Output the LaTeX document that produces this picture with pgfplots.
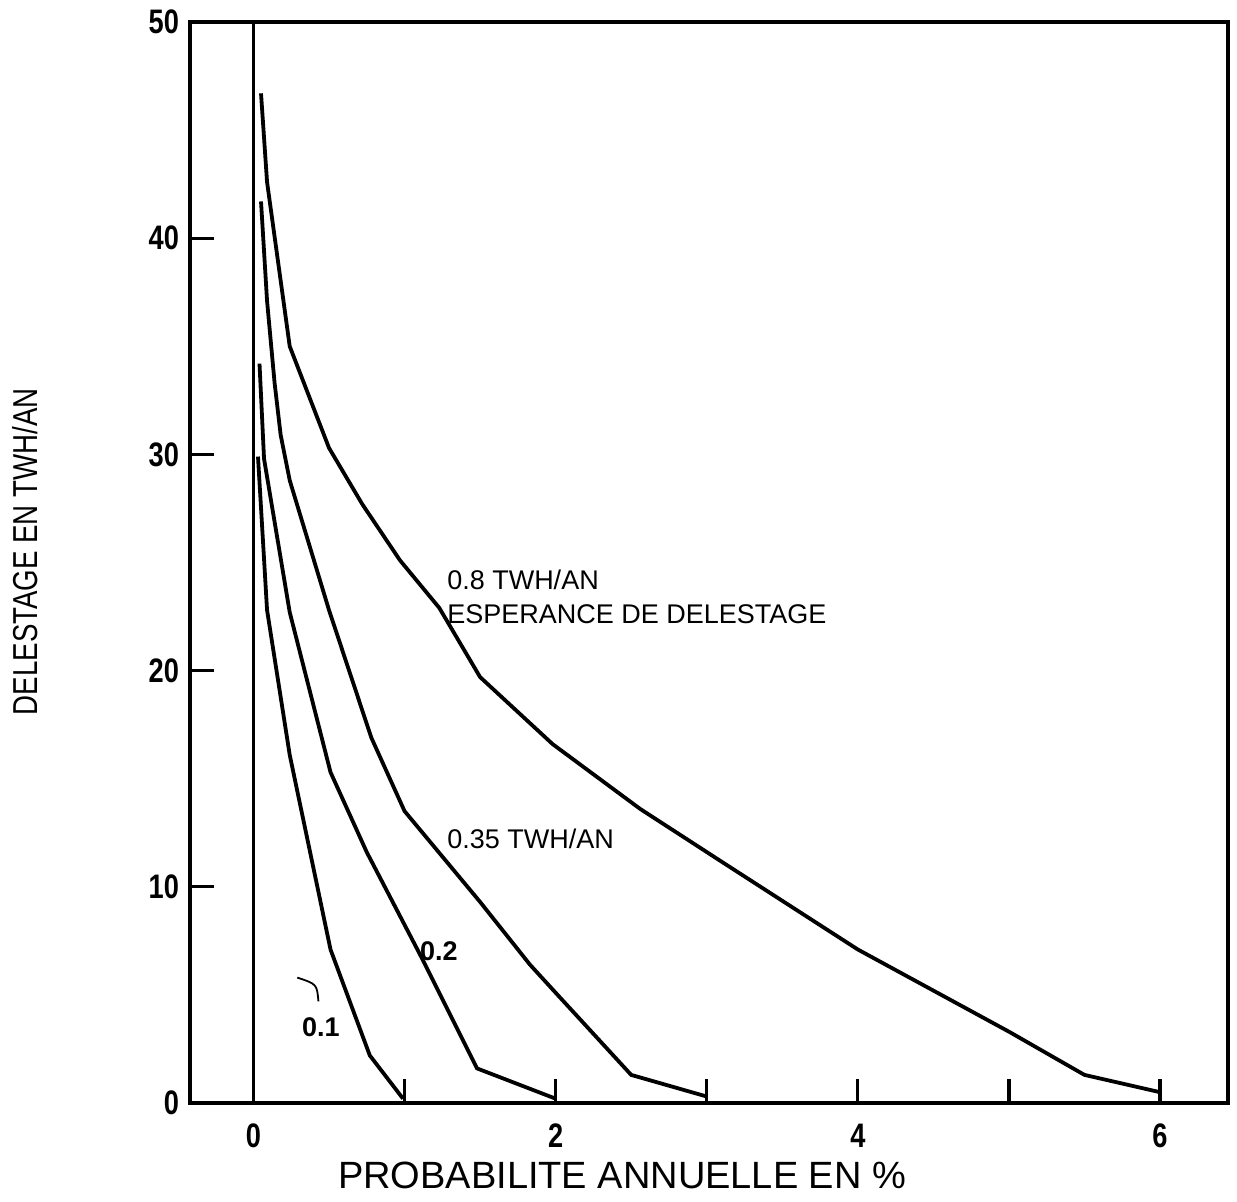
\documentclass[border=0pt]{standalone}
\usepackage{pgfplots}
\pgfplotsset{compat=1.18}
\usepackage{fontspec}
\setmainfont{Liberation Sans}
\newfontfamily\condfont{Liberation Sans}[FakeStretch=0.8]

\pgfplotstableread{
x     y
0.05  46.7
0.09  42.6
0.24  35.0
0.50  30.3
0.72  27.7
0.97  25.1
1.23  22.9
1.50  19.7
1.98  16.6
2.56  13.6
3.09  11.2
4.00   7.1
4.50   5.2
5.00   3.3
5.50   1.3
6.00   0.5
}\curveA
\pgfplotstableread{
x     y
0.05  41.7
0.09  37.1
0.14  33.3
0.18  30.9
0.24  28.8
0.50  22.8
0.78  16.9
1.00  13.5
1.50   9.3
1.83   6.4
2.00   5.1
2.50   1.3
3.00   0.3
}\curveB
\pgfplotstableread{
x     y
0.04  34.2
0.07  29.8
0.24  22.7
0.51  15.3
0.75  11.6
1.10   6.9
1.48   1.6
2.00   0.2
}\curveC
\pgfplotstableread{
x     y
0.03  29.9
0.09  22.8
0.24  16.1
0.51   7.1
0.77   2.2
0.99   0.2
}\curveD

\begin{document}
\begin{tikzpicture}
\begin{axis}[
  scale only axis,
  width=519pt, height=540.5pt,
  xmin=-0.42, xmax=6.45, ymin=0, ymax=50,
  axis line style={line width=2.4pt},
  xtick={0,1,2,3,4,5,6},
  xticklabels={0,,2,,4,,6},
  ytick={0,10,20,30,40,50},
  tick style={black, line width=1.6pt},
  tick align=inside,
  xtick pos=bottom, ytick pos=left,
  major tick length=12pt,
  x tick label style={yshift=-7pt},
  y tick label style={xshift=-2pt},
  ticklabel style={font=\condfont\bfseries\fontsize{17}{17}\selectfont},
  /pgf/number format/assume math mode=true,
  clip=false,
]
\addplot[black, line width=1.4pt] coordinates {(0,0) (0,50)};
\addplot[black, line width=1.9pt] table {\curveA};
\addplot[black, line width=1.9pt] table {\curveB};
\addplot[black, line width=1.9pt] table {\curveC};
\addplot[black, line width=1.9pt] table {\curveD};

\node[anchor=west, inner sep=0, font=\fontsize{13.5}{14}\selectfont] at (axis cs:1.28,24.2) {0.8 TWH/AN};
\node[anchor=west, inner sep=0, font=\fontsize{13.5}{14}\selectfont] at (axis cs:1.28,22.6) {ESPERANCE DE DELESTAGE};
\node[anchor=west, inner sep=0, font=\fontsize{13.5}{14}\selectfont] at (axis cs:1.28,12.2) {0.35 TWH/AN};
\node[anchor=west, inner sep=0, font=\bfseries\fontsize{13.5}{14}\selectfont] at (axis cs:1.10,7.0) {0.2};
\node[anchor=west, inner sep=0, font=\bfseries\fontsize{13.5}{14}\selectfont] at (axis cs:0.32,3.5) {0.1};
\draw[line width=0.9pt] (axis cs:0.29,5.8) .. controls (axis cs:0.42,5.5) .. (axis cs:0.43,4.7);

\node[font=\fontsize{19}{20}\selectfont] at ([yshift=-36pt]axis cs:2.44,0) {PROBABILITE ANNUELLE EN \%};
\node[rotate=90, font=\condfont\fontsize{17.3}{17}\selectfont] at ([xshift=-82.5pt]rel axis cs:0,0.51) {DELESTAGE EN TWH/AN};
\end{axis}
\pgfresetboundingbox
\path (current axis.south west) ++(-95pt,-49pt) rectangle ++(618.5pt,600.5pt);
\end{tikzpicture}
\end{document}
